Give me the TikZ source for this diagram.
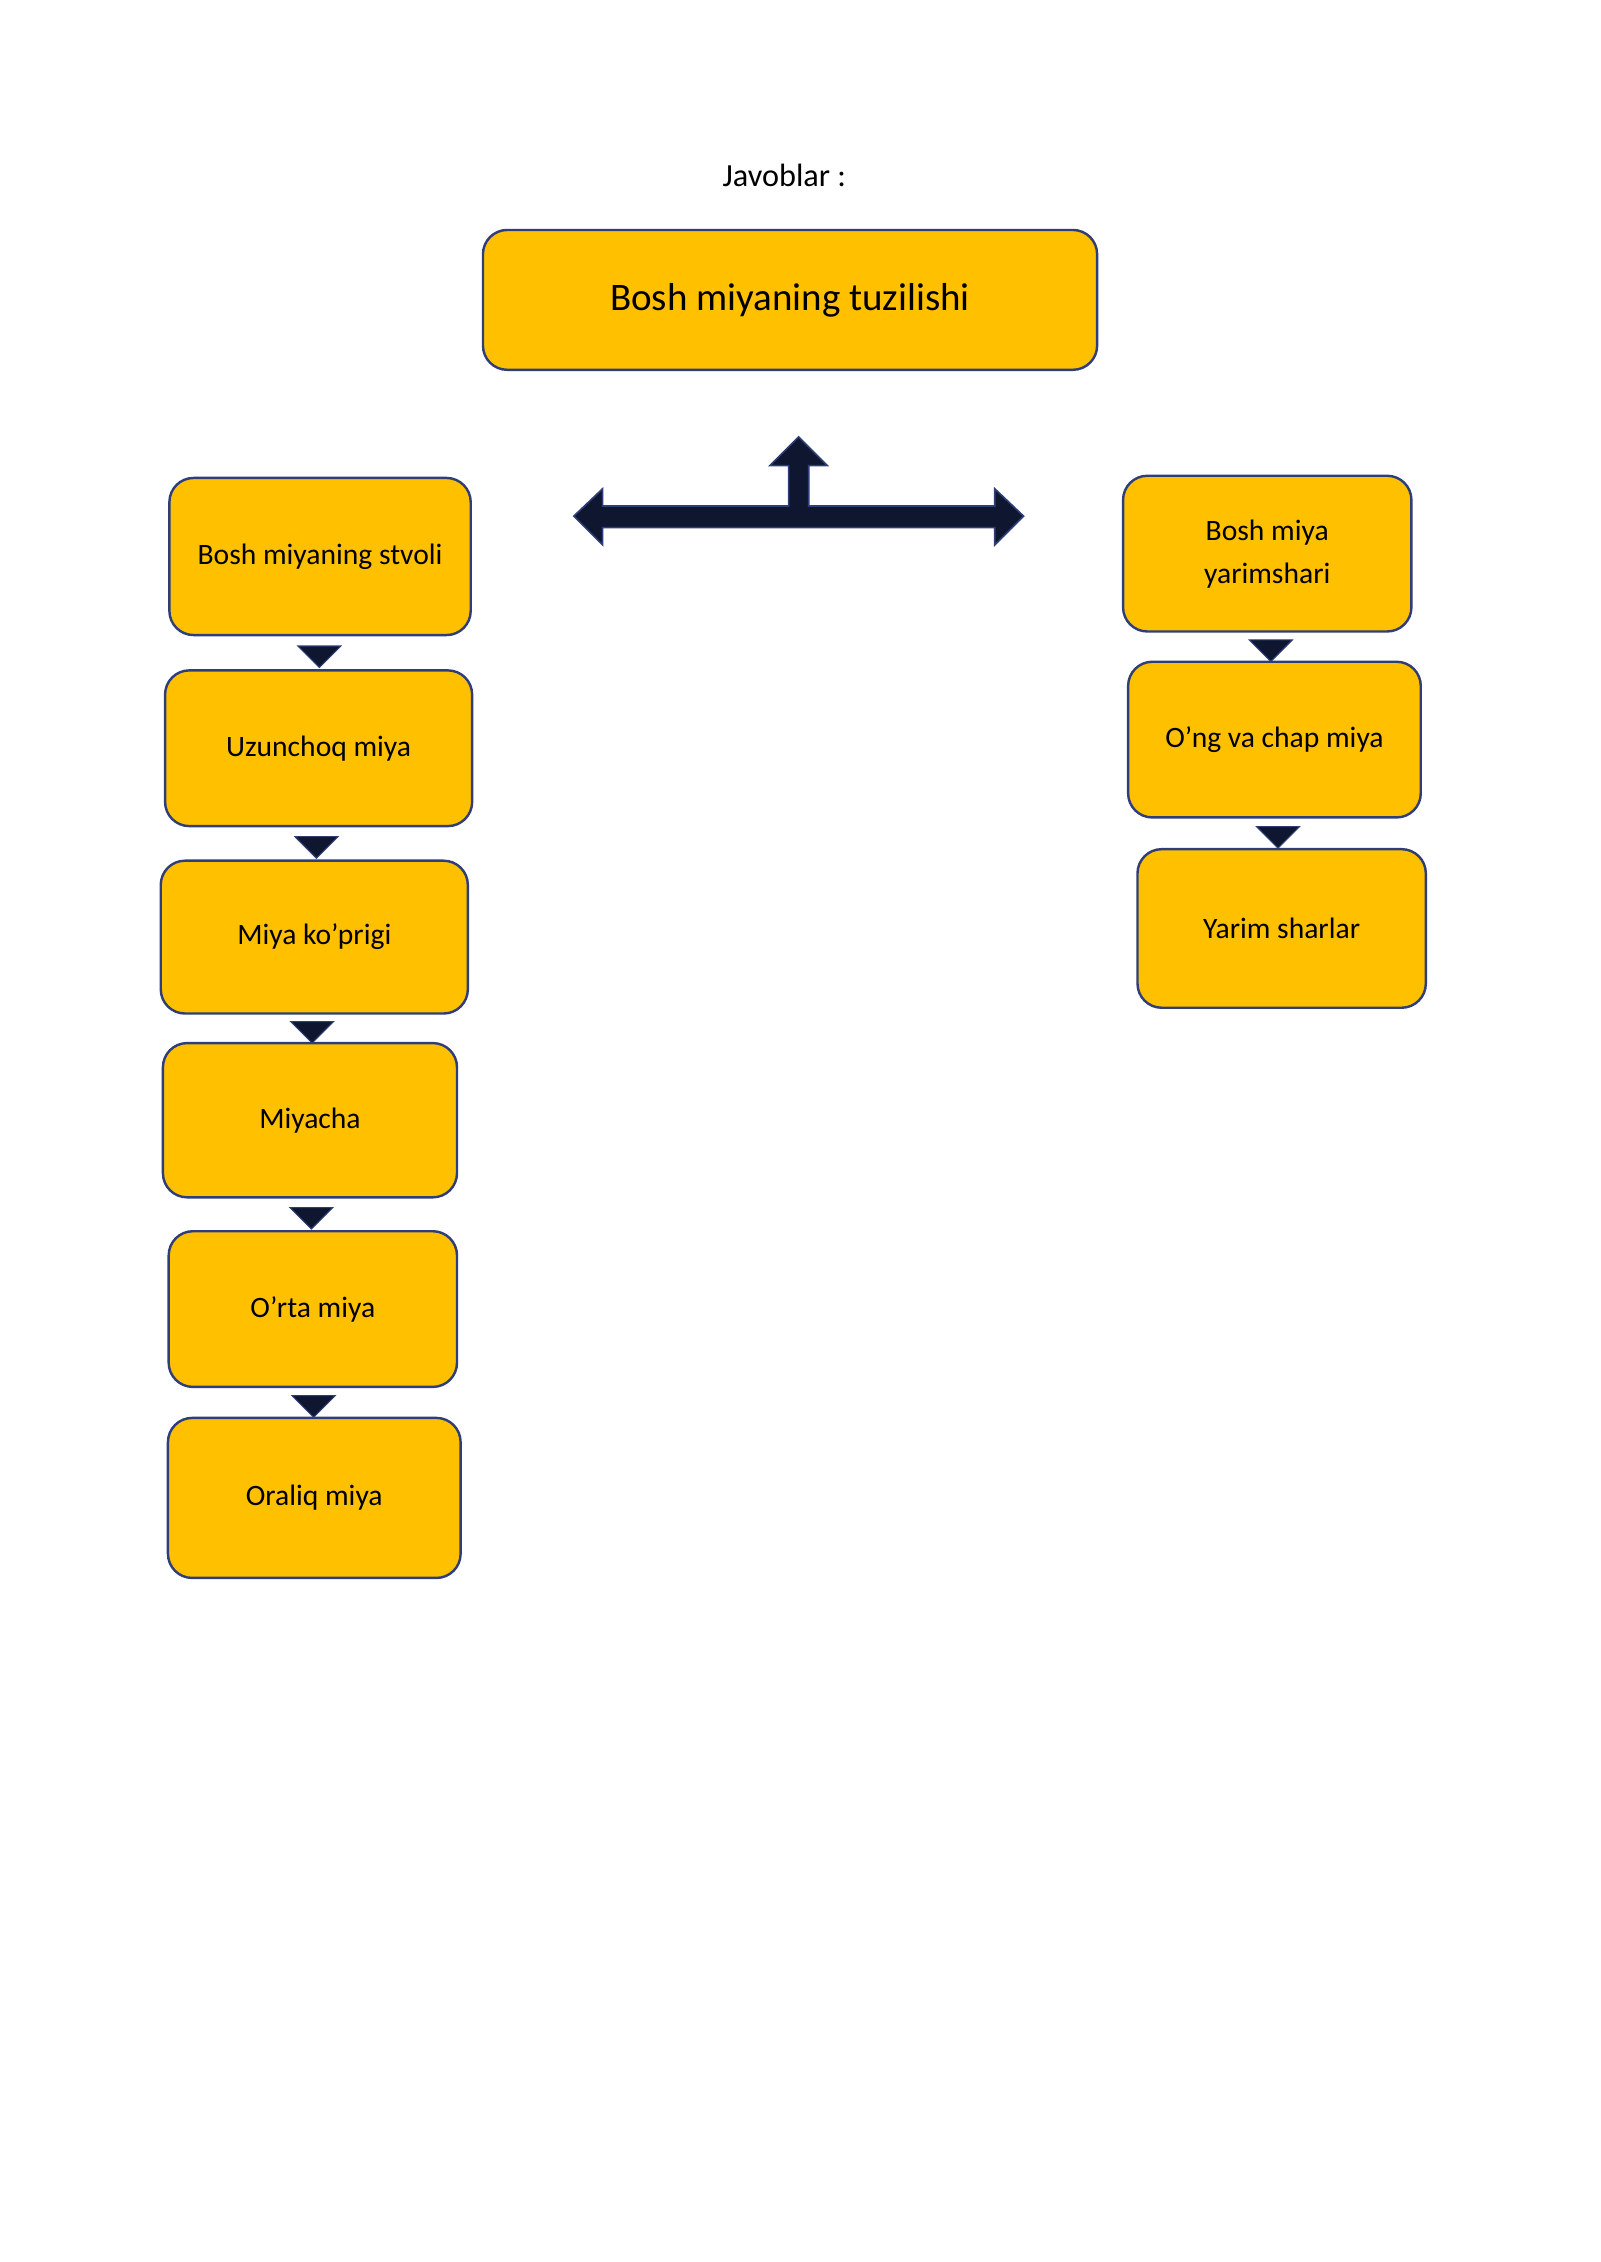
\documentclass[tikz,border=0pt]{standalone}
\usepackage{fontspec}
\setmainfont{Carlito}
\usetikzlibrary{shapes.arrows}
\definecolor{boxfill}{RGB}{255,192,0}
\definecolor{boxline}{RGB}{47,62,120}
\definecolor{arrowfill}{RGB}{14,22,48}
\tikzset{
  box/.style={draw=boxline, line width=0.9pt, fill=boxfill, rounded corners=9pt, align=center, font=\fontsize{11}{16}\selectfont},
  downarrow/.style={single arrow, draw=boxline, fill=arrowfill, line width=0.4pt, shape border rotate=270, minimum height=8pt, minimum width=16pt, single arrow head extend=2pt, inner sep=1pt}
}
\begin{document}
\begin{tikzpicture}[x=0.5362pt,y=0.5362pt,yscale=-1]
\useasboundingbox (0,0) rectangle (1110,1569);

% title
\node (answers) at (544,122) {\fontsize{12}{14}\selectfont Javoblar :};
\node[box, minimum width=426*0.5362pt, minimum height=97*0.5362pt, font=\fontsize{14.5}{16}\selectfont] (main) at (548,208) {Bosh miyaning tuzilishi};

% left column
\node[box, minimum width=209*0.5362pt, minimum height=109*0.5362pt] (stvol) at (222,386) {Bosh miyaning stvoli};
\node[box, minimum width=213*0.5362pt, minimum height=108*0.5362pt] (uzun) at (221,519) {Uzunchoq miya};
\node[box, minimum width=213*0.5362pt, minimum height=106*0.5362pt] (kopr) at (218,650) {Miya ko’prigi};
\node[box, minimum width=204*0.5362pt, minimum height=107*0.5362pt] (miyacha) at (215,777) {Miyacha};
\node[box, minimum width=200*0.5362pt, minimum height=108*0.5362pt] (orta) at (217,908) {O’rta miya};
\node[box, minimum width=203*0.5362pt, minimum height=111*0.5362pt] (oraliq) at (218,1039) {Oraliq miya};

% right column
\node[box, minimum width=200*0.5362pt, minimum height=108*0.5362pt] (yarim) at (879,384) {Bosh miya\\yarimshari};
\node[box, minimum width=203*0.5362pt, minimum height=108*0.5362pt] (ongchap) at (884,513) {O’ng va chap miya};
\node[box, minimum width=200*0.5362pt, minimum height=110*0.5362pt] (sharlar) at (889,644) {Yarim sharlar};

% small arrows
\path (stvol.south) -- (uzun.north) node[midway, downarrow] {};
\path (uzun.south) -- (kopr.north) node[midway, downarrow] {};
\path (kopr.south) -- (miyacha.north) node[midway, downarrow] {};
\path (miyacha.south) -- (orta.north) node[midway, downarrow] {};
\path (orta.south) -- (oraliq.north) node[midway, downarrow] {};
\path (yarim.south) -- (ongchap.north) node[midway, downarrow] {};
\path (ongchap.south) -- (sharlar.north) node[midway, downarrow] {};

% big branching arrow
\draw[draw=boxline, fill=arrowfill, line width=0.6pt]
  (398,358) -- (418,339) -- (418,351) -- (547,351) -- (547,323) -- (534,323)
  -- (554,303) -- (574,323) -- (561,323) -- (561,351) -- (690,351) -- (690,339)
  -- (710,358) -- (690,378) -- (690,366) -- (418,366) -- (418,378) -- cycle;
\end{tikzpicture}
\end{document}
